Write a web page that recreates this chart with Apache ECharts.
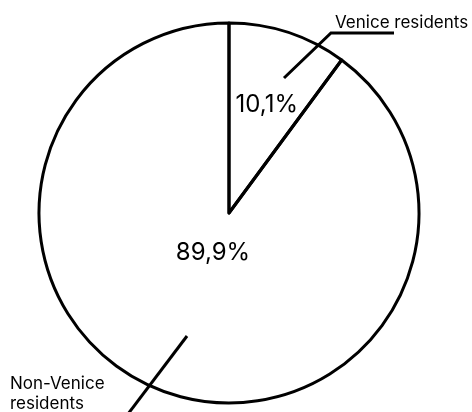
<!DOCTYPE html>
<html>
<head>
<meta charset="utf-8">
<script src="https://cdn.jsdelivr.net/npm/echarts@6/dist/echarts.min.js"></script>
<style>
html,body{margin:0;padding:0;background:#fff;}
#chart{width:472px;height:412px;}
</style>
</head>
<body>
<div id="chart"></div>
<script>
const categories = ['Venice residents', 'Non-Venice residents'];
const categoryLabels = ['Venice residents', 'Non-Venice\nresidents'];
const values = [10.1, 89.9];

const FONT = 'Inter';
const CX = 229, CY = 213, R = 190;

function pct(v) { return v.toFixed(1).replace('.', ',') + '%'; }

const chart = echarts.init(document.getElementById('chart'));

const baseData = categories.map((c, i) => ({ name: c, value: values[i] }));

const transparentItem = { color: 'rgba(0,0,0,0)', borderWidth: 0 };

function innerLabelSeries(radius, showIndex, offset) {
  return {
    type: 'pie',
    z: 3,
    center: [CX, CY],
    radius: radius,
    startAngle: 90,
    clockwise: true,
    silent: true,
    animation: false,
    itemStyle: transparentItem,
    emphasis: { disabled: true },
    data: baseData.map((d, i) => ({
      name: d.name,
      value: d.value,
      label: {
        show: i === showIndex,
        position: 'inside',
        offset: offset,
        formatter: (p) => pct(p.value),
        color: '#000',
        fontFamily: FONT,
        fontSize: 24,
        fontWeight: 400
      }
    }))
  };
}

const linePoints = [
  [[284, 78], [331, 33], [394, 33]],
  [[187, 336], [128, 414], [128, 414]]
];
const labelPos = [
  { x: 335, y: 23, align: 'left', verticalAlign: 'middle' },
  { x: 10, y: 394, align: 'left', verticalAlign: 'middle' }
];

const option = {
  backgroundColor: '#fff',
  animation: false,
  series: [
    {
      type: 'pie',
      z: 1,
      center: [CX, CY],
      radius: R,
      startAngle: 90,
      clockwise: true,
      silent: true,
      animation: false,
      itemStyle: { color: 'rgba(255,255,255,0)', borderColor: '#000', borderWidth: 3 },
      emphasis: { disabled: true },
      label: { show: false },
      labelLine: { show: false },
      data: baseData
    },
    innerLabelSeries(236, 0, [0, 7]),
    innerLabelSeries(84, 1, [-2, -3]),
    {
      type: 'pie',
      z: 4,
      center: [CX, CY],
      radius: R,
      startAngle: 90,
      clockwise: true,
      silent: true,
      animation: false,
      itemStyle: transparentItem,
      emphasis: { disabled: true },
      label: {
        show: true,
        position: 'outside',
        formatter: (p) => categoryLabels[p.dataIndex],
        color: '#000',
        fontFamily: FONT,
        fontSize: 17,
        lineHeight: 20
      },
      labelLine: {
        show: true,
        lineStyle: { color: '#000', width: 3 }
      },
      labelLayout: function (params) {
        const i = params.dataIndex;
        return {
          x: labelPos[i].x,
          y: labelPos[i].y,
          align: labelPos[i].align,
          verticalAlign: labelPos[i].verticalAlign,
          labelLinePoints: linePoints[i]
        };
      },
      data: baseData
    }
  ]
};

chart.setOption(option);
</script>
</body>
</html>
